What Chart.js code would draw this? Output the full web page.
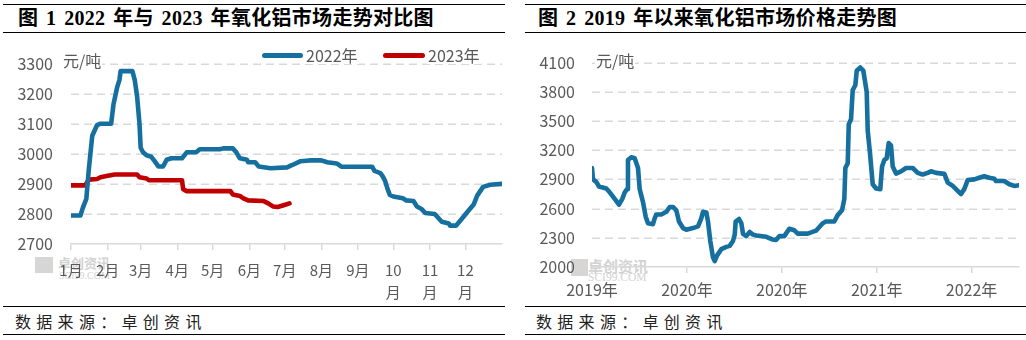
<!DOCTYPE html>
<html>
<head>
<meta charset="utf-8">
<script src="https://cdn.jsdelivr.net/npm/chart.js@4"></script>
<style>
  html, body { margin: 0; padding: 0; background: #fff; }
  body { width: 1026px; height: 340px; position: relative; overflow: hidden; font-family: "Noto Sans CJK SC", "Noto Sans", sans-serif; }
  .hl { position: absolute; height: 1px; background: #000; }
  .title { position: absolute; top: 4px; height: 28px; line-height: 28px; font-family: "Liberation Serif", "Noto Sans CJK SC", serif; font-weight: bold; font-size: 20px; color: #000; white-space: pre; letter-spacing: 0.3px; word-spacing: 2.5px; }
  .src { position: absolute; top: 308px; height: 26px; line-height: 26px; font-size: 16px; letter-spacing: 5.3px; color: #222; white-space: pre; }
  .box { position: absolute; top: 36px; width: 513px; height: 270px; }
  .unit { position: absolute; font-size: 16px; color: #595959; background: #fff; line-height: 18px; padding: 0 1px; }
  .lg-line { position: absolute; height: 5px; border-radius: 3px; }
  .lg-text { position: absolute; font-size: 16px; color: #595959; background: #fff; line-height: 18px; padding: 0 1px; }
  .wm { position: absolute; color: #d2d2d2; white-space: pre; }
  .wm-logo { position: absolute; background: #d6d6d6; }
</style>
</head>
<body>
<!-- watermarks (behind the charts) -->
<div class="wm-logo" style="left:35px;top:257px;width:18px;height:16px;"></div>
<div class="wm" style="left:58px;top:253px;font-size:13px;font-weight:bold;">卓创资讯</div>
<div class="wm" style="left:59px;top:270px;font-size:10px;font-family:'Liberation Serif',serif;">SCI99.COM</div>
<div class="wm-logo" style="left:571px;top:259px;width:17px;height:17px;"></div>
<div class="wm" style="left:588px;top:255px;font-size:15px;font-weight:bold;">卓创资讯</div>
<div class="wm" style="left:588px;top:271px;font-size:11.5px;font-family:'Liberation Serif',serif;">SCI99.COM</div>

<!-- left panel frame -->
<div class="hl" style="left:3px;top:4px;width:502px;"></div>
<div class="title" style="left:18px;">图 1 2022 年与 2023 年氧化铝市场走势对比图</div>
<div class="hl" style="left:3px;top:32px;width:502px;"></div>
<div class="box" style="left:0;"><canvas id="c1" width="513" height="270"></canvas></div>
<div class="hl" style="left:3px;top:306px;width:502px;"></div>
<div class="src" style="left:15px;">数据来源：卓创资讯</div>
<div class="hl" style="left:3px;top:334px;width:502px;"></div>

<!-- right panel frame -->
<div class="hl" style="left:525px;top:4px;width:501px;"></div>
<div class="title" style="left:538px;">图 2 2019 年以来氧化铝市场价格走势图</div>
<div class="hl" style="left:525px;top:32px;width:501px;"></div>
<div class="box" style="left:513px;"><canvas id="c2" width="513" height="270"></canvas></div>
<div class="hl" style="left:525px;top:306px;width:501px;"></div>
<div class="src" style="left:536px;">数据来源：卓创资讯</div>
<div class="hl" style="left:525px;top:334px;width:501px;"></div>

<!-- overlays: unit labels and legend -->
<div class="unit" style="left:62px;top:51px;">元/吨</div>
<div class="unit" style="left:595px;top:51px;">元/吨</div>
<div class="lg-line" id="lg1" style="left:262px;top:53px;width:41px;"></div>
<div class="lg-text" style="left:305px;top:46px;">2022年</div>
<div class="lg-line" id="lg2" style="left:383px;top:53px;width:42px;"></div>
<div class="lg-text" style="left:427px;top:46px;">2023年</div>

<script>
// ---------- data: figure 1 (day of year) ----------
const monthStartDays = [0, 31, 59, 90, 120, 151, 181, 212, 243, 273, 304, 334];
const monthLabels = ["1月", "2月", "3月", "4月", "5月", "6月", "7月", "8月", "9月", ["10", "月"], ["11", "月"], ["12", "月"]];

const days2022 = [0, 8, 10, 13, 15, 18, 22, 25, 34, 36, 39, 41, 42, 52, 54, 56, 58, 59, 61, 64, 68, 71, 74, 78, 81, 85, 94, 98, 106, 109, 126, 129, 137, 140, 143, 149, 150, 156, 159, 169, 183, 187, 194, 202, 212, 217, 225, 229, 255, 257, 262, 264, 266, 268, 270, 273, 281, 284, 290, 293, 297, 300, 308, 314, 320, 321, 326, 331, 336, 341, 344, 349, 355, 365];
const price2022 = [2795, 2795, 2820, 2850, 2945, 3060, 3095, 3100, 3100, 3165, 3220, 3245, 3275, 3275, 3245, 3190, 3100, 3020, 3005, 2995, 2990, 2975, 2958, 2958, 2980, 2985, 2985, 3005, 3005, 3015, 3015, 3018, 3018, 3005, 2985, 2980, 2972, 2972, 2958, 2952, 2955, 2962, 2975, 2978, 2978, 2972, 2968, 2957, 2957, 2943, 2936, 2925, 2910, 2884, 2863, 2858, 2852, 2845, 2843, 2825, 2816, 2803, 2800, 2774, 2768, 2761, 2761, 2784, 2808, 2831, 2861, 2890, 2897, 2900];

const days2023 = [0, 12, 15, 22, 25, 30, 37, 56, 58, 64, 66, 94, 95, 98, 135, 137, 143, 146, 150, 163, 167, 171, 175, 180, 185];
const price2023 = [2895, 2895, 2914, 2916, 2922, 2926, 2931, 2931, 2922, 2918, 2912, 2912, 2882, 2876, 2876, 2865, 2860, 2852, 2845, 2843, 2835, 2825, 2823, 2829, 2835];

const yTicks1 = [2700, 2800, 2900, 3000, 3100, 3200, 3300];

// ---------- data: figure 2 (months since Jan 2019) ----------
const yearTickMonths = [0, 12, 24, 36, 48];
const yearTickLabels = ["2019年", "2020年", "2020年", "2021年", "2022年"];

const monthsSince2019 = [0, 0.13, 0.54, 0.89, 1.81, 2.24, 2.87, 3.41, 3.83, 4.14, 4.43, 4.55, 4.97, 5.40, 5.82, 6.03, 6.45, 6.79, 7.08, 7.71, 7.93, 8.13, 8.76, 9.40, 9.83, 10.24, 10.66, 11.00, 11.51, 11.93, 12.77, 13.41, 13.82, 14.04, 14.46, 14.67, 14.96, 15.30, 15.52, 15.81, 16.35, 16.99, 17.41, 17.83, 18.05, 18.17, 18.59, 18.88, 19.10, 19.51, 19.94, 20.36, 20.78, 22.04, 22.80, 23.27, 23.69, 24.32, 24.95, 25.59, 26.02, 27.28, 28.33, 29.18, 29.59, 30.64, 31.07, 31.62, 31.91, 32.04, 32.34, 32.47, 32.76, 32.97, 33.30, 33.48, 33.93, 34.31, 34.74, 34.87, 35.16, 35.50, 35.92, 36.46, 36.68, 36.97, 37.27, 37.52, 37.81, 38.03, 38.45, 39.08, 39.71, 40.56, 41.19, 41.82, 42.46, 42.87, 43.51, 44.56, 44.99, 45.62, 46.25, 46.67, 47.08, 47.51, 48.35, 48.98, 49.61, 50.24, 50.88, 51.09, 52.14, 52.78, 53.41, 54];
const priceSince2019 = [3017, 2900, 2874, 2827, 2807, 2767, 2700, 2640, 2700, 2767, 2800, 3100, 3127, 3117, 3017, 2800, 2667, 2517, 2450, 2440, 2500, 2540, 2540, 2567, 2617, 2617, 2583, 2467, 2400, 2383, 2400, 2417, 2500, 2567, 2560, 2467, 2267, 2100, 2060, 2117, 2183, 2207, 2217, 2267, 2333, 2467, 2493, 2450, 2340, 2317, 2360, 2333, 2323, 2310, 2283, 2277, 2317, 2317, 2393, 2377, 2343, 2343, 2373, 2450, 2467, 2467, 2533, 2583, 2700, 3017, 3067, 3467, 3517, 3817, 3867, 4017, 4050, 4017, 3800, 3400, 3167, 2850, 2807, 2800, 3033, 3100, 3117, 3273, 3250, 3033, 2960, 2983, 3017, 3017, 2967, 2950, 2967, 2983, 2967, 2957, 2867, 2833, 2783, 2750, 2800, 2893, 2900, 2917, 2933, 2917, 2907, 2883, 2883, 2850, 2833, 2840];

const yTicks2 = [2000, 2300, 2600, 2900, 3200, 3500, 3800, 4100];

// ---------- styling ----------
const BLUE = "#16709f";
const RED = "#c00000";
const GRID = "#d9d9d9";
const TXT = "#595959";
document.getElementById("lg1").style.background = BLUE;
document.getElementById("lg2").style.background = RED;

Chart.defaults.font.family = '"Noto Sans CJK SC", "Noto Sans", sans-serif';
Chart.defaults.color = TXT;
Chart.defaults.animation = false;

function pts(xs, ys) { return xs.map((x, i) => ({ x: x, y: ys[i] })); }

function lineDs(label, data, color) {
  return { label, data, borderColor: color, backgroundColor: color, borderWidth: 4.6,
    pointRadius: 0, tension: 0, borderJoinStyle: "round", borderCapStyle: "round", fill: false };
}

// dashed horizontal grid lines drawn from the library's own y scale ticks
const dashedGrid = {
  id: "dashedGrid",
  beforeDatasetsDraw(chart) {
    const { ctx, chartArea, scales } = chart;
    const y = scales.y;
    ctx.save();
    ctx.strokeStyle = GRID;
    ctx.lineWidth = 1.5;
    ctx.setLineDash([8, 5]);
    y.ticks.forEach((t, i) => {
      if (i === 0) return; // bottom coincides with the x axis line
      const py = Math.round(y.getPixelForValue(t.value)) + 0.25;
      ctx.beginPath();
      ctx.moveTo(chartArea.left, py);
      ctx.lineTo(chartArea.right, py);
      ctx.stroke();
    });
    ctx.restore();
  }
};

function makeOptions(cfg) {
  return {
    responsive: false, devicePixelRatio: 1, animation: false,
    layout: { padding: cfg.padding },
    plugins: { legend: { display: false }, tooltip: { enabled: false } },
    scales: {
      x: {
        type: "linear", min: cfg.xMin, max: cfg.xMax,
        afterBuildTicks: (ax) => { ax.ticks = cfg.xTickValues.map(v => ({ value: v })); },
        afterFit: (ax) => { ax.height = cfg.xHeight; },
        ticks: { autoSkip: false, maxRotation: 0, minRotation: 0, padding: cfg.xPad, color: TXT,
          font: { size: cfg.xFont, lineHeight: 1.5 },
          callback: (v, i) => cfg.xTickLabels[i] },
        grid: { drawOnChartArea: false, drawTicks: true, tickLength: 6, color: GRID, lineWidth: 1.5, tickBorderDash: [] },
        border: { display: true, color: GRID, width: 1.5 }
      },
      y: {
        type: "linear", min: cfg.yMin, max: cfg.yMax,
        afterBuildTicks: (ax) => { ax.ticks = cfg.yTickValues.map(v => ({ value: v })); },
        afterFit: (ax) => { ax.width = cfg.yWidth; },
        ticks: { padding: cfg.yPad, color: TXT, font: { size: 16 }, callback: (v) => String(v) },
        grid: { display: false, drawTicks: false },
        border: { display: false }
      }
    }
  };
}

new Chart(document.getElementById("c1"), {
  type: "line",
  data: { datasets: [
    lineDs("2022年", pts(days2022, price2022), BLUE),
    lineDs("2023年", pts(days2023, price2023), RED)
  ] },
  options: makeOptions({
    padding: { left: 0, top: 20, right: 11, bottom: 0 },
    xMin: 0, xMax: 365, xTickValues: monthStartDays, xTickLabels: monthLabels,
    xHeight: 62, xPad: 9, xFont: 15,
    yMin: 2700, yMax: 3300, yTickValues: yTicks1, yWidth: 71, yPad: 18
  }),
  plugins: [dashedGrid]
});

new Chart(document.getElementById("c2"), {
  type: "line",
  data: { datasets: [ lineDs("价格", pts(monthsSince2019, priceSince2019), BLUE) ] },
  options: makeOptions({
    padding: { left: 0, top: 21, right: 7, bottom: 0 },
    xMin: 0, xMax: 54, xTickValues: yearTickMonths, xTickLabels: yearTickLabels,
    xHeight: 39, xPad: 5, xFont: 16,
    yMin: 2000, yMax: 4100, yTickValues: yTicks2, yWidth: 79, yPad: 17
  }),
  plugins: [dashedGrid]
});
</script>
</body>
</html>
